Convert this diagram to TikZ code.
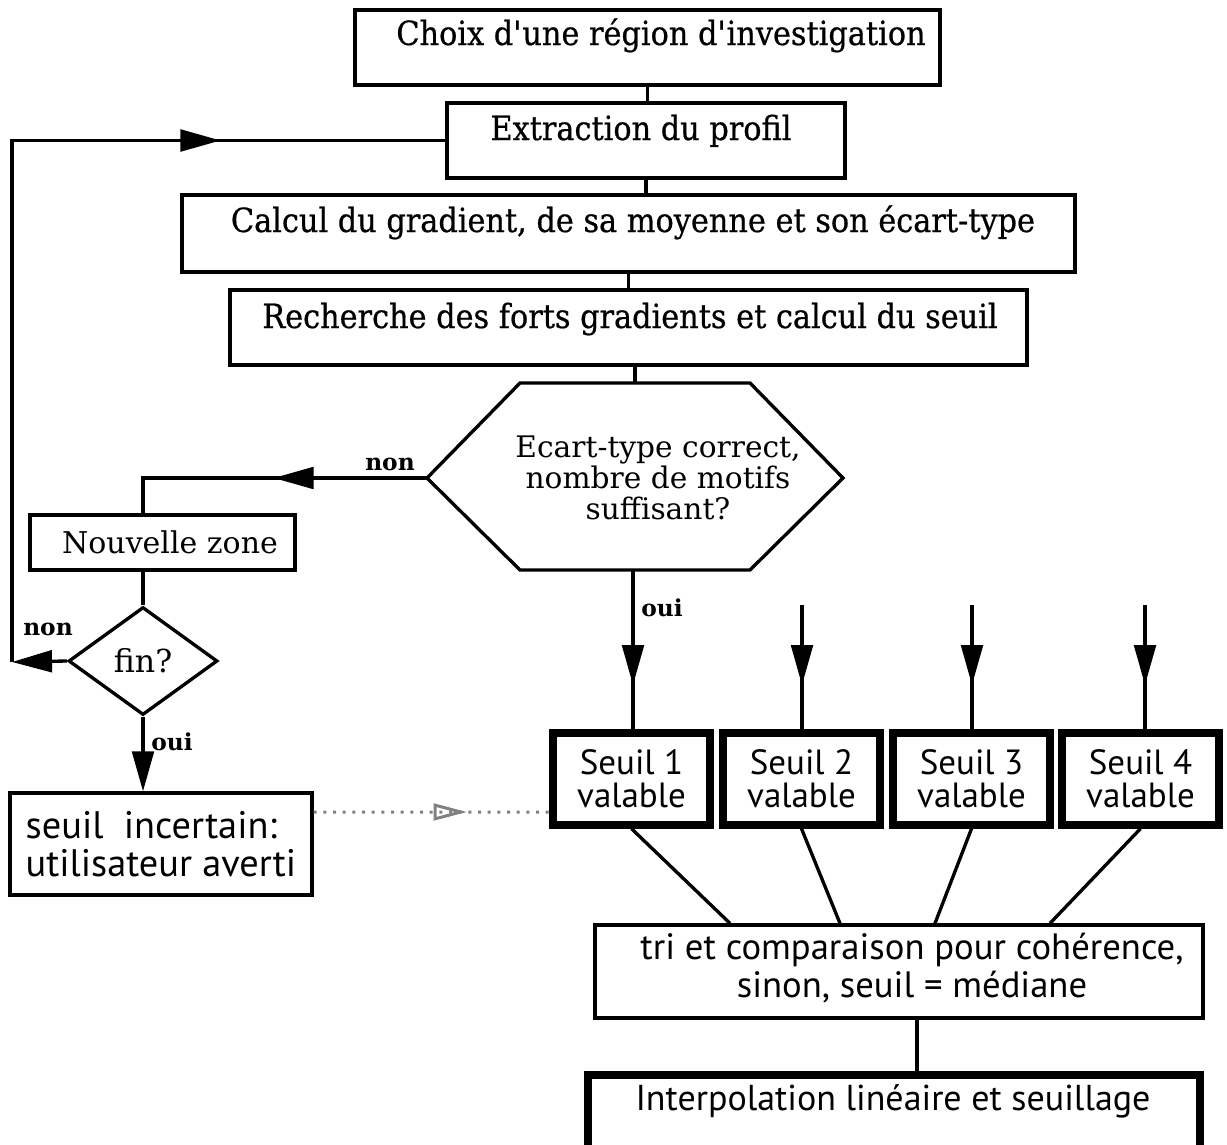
\documentclass[tikz,border=0pt]{standalone}
\usepackage{fontspec}
\setmainfont{DejaVu Serif}
\newfontfamily\condserif[FakeStretch=0.91,FakeBold=0.6]{DejaVu Serif}
\newfontfamily\sansf{PT Sans}
\usetikzlibrary{arrows.meta,shapes.geometric,decorations.markings}
\tikzset{
  box/.style={draw,line width=1pt,inner sep=0pt},
  heavybox/.style={draw,line width=2.2pt,inner sep=0pt},
  conn/.style={line width=1pt},
  midarrow/.style={postaction={decorate,decoration={markings,mark=at position #1 with {\arrow{Triangle[length=12pt,width=6.5pt]}}}}},
  openmid/.style={postaction={decorate,decoration={markings,mark=at position #1 with {\arrow[gray,solid]{Triangle[open,length=10pt,width=5pt]}}}}},
  endarrow/.style={-{Triangle[length=12pt,width=6.5pt]}},
  maintxt/.style={font=\condserif\fontsize{10}{11}\selectfont,anchor=base,inner sep=0pt},
  hextxt/.style={font=\fontsize{8.9}{9.4}\selectfont,align=center,inner sep=0pt},
  sanstxt/.style={font=\sansf\fontsize{10.5}{9.8}\selectfont,align=center},
  lbl/.style={font=\bfseries\fontsize{7}{8}\selectfont,anchor=base,inner sep=0pt},
}
\begin{document}
\begin{tikzpicture}[x=0.3pt,y=-0.3pt]
\useasboundingbox (0,0) rectangle (1227,1145);
\clip (0,0) rectangle (1227,1145);

% top boxes
\node[box,minimum width=585*0.3pt,minimum height=75*0.3pt] (b1) at (647.5,47.5) {};
\node[maintxt] (b1t) at (661,45) {Choix d\textquotesingle une région d\textquotesingle investigation};
\node[box,minimum width=398*0.3pt,minimum height=75*0.3pt] (b2) at (646,140.5) {};
\node[maintxt] (b2t) at (641,140) {Extraction du profil};
\node[box,minimum width=893*0.3pt,minimum height=77*0.3pt] (b3) at (628.5,233.5) {};
\node[maintxt] (b3t) at (633,232) {Calcul du gradient, de sa moyenne et son écart-type};
\node[box,minimum width=797*0.3pt,minimum height=75*0.3pt] (b4) at (628.5,327.5) {};
\node[maintxt] (b4t) at (630,328) {Recherche des forts gradients et calcul du seuil};

% hexagon
\coordinate (hexL) at (427,478);
\coordinate (hexT) at (635,383);
\coordinate (hexB) at (633,570);
\draw[conn] (hexL) -- (520,383) -- (750,383) -- (843,478) -- (750,570) -- (520,570) -- cycle;
\node[hextxt] (q) at (658,478) {Ecart-type correct,\\nombre de motifs\\suffisant?};

% left side
\node[box,minimum width=265*0.3pt,minimum height=55*0.3pt] (nz) at (162.5,542.5) {};
\node[font=\fontsize{9}{10}\selectfont,inner sep=0pt] (nzt) at (170,542) {Nouvelle zone};
\node[draw,diamond,line width=1pt,minimum width=149*0.3pt,minimum height=108*0.3pt,inner sep=0pt,font=\fontsize{9.5}{10}\selectfont] (fin) at (143,661) {fin?};
\node[box,minimum width=302*0.3pt,minimum height=102*0.3pt,font=\sansf\fontsize{11.5}{11.4}\selectfont,align=left] (sinc) at (161,844) {seuil\ \ incertain:\\utilisateur averti};
\coordinate (lc) at (12,662);

% seuil boxes
\node[heavybox,minimum width=157*0.3pt,minimum height=92*0.3pt,sanstxt] (s1) at (631.5,779) {Seuil 1\\valable};
\node[heavybox,minimum width=157*0.3pt,minimum height=92*0.3pt,sanstxt] (s2) at (801.5,779) {Seuil 2\\valable};
\node[heavybox,minimum width=157*0.3pt,minimum height=92*0.3pt,sanstxt] (s3) at (971.5,779) {Seuil 3\\valable};
\node[heavybox,minimum width=157*0.3pt,minimum height=92*0.3pt,sanstxt] (s4) at (1140.5,779) {Seuil 4\\valable};
\coordinate (i2) at (802,605);
\coordinate (i3) at (972,605);
\coordinate (i4) at (1145,605);

% bottom boxes
\node[box,minimum width=608*0.3pt,minimum height=93*0.3pt] (tri) at (899,971.5) {};
\node[sanstxt,font=\sansf\fontsize{11}{10}\selectfont,inner sep=0pt] (trit) at (912,968) {tri et comparaison pour cohérence,\\sinon, seuil = médiane};
\node[heavybox,minimum width=612*0.3pt,minimum height=100*0.3pt] (interp) at (894,1125) {};
\node[font=\sansf\fontsize{10.8}{10}\selectfont,anchor=base,inner sep=0pt] (interpt) at (893,1110) {Interpolation linéaire et seuillage};

% connectors
\draw[conn] (b1.south) -- (b1.south |- b2.north);
\draw[conn] (b2.south) -- (b2.south |- b3.north);
\draw[conn] (b3.south) -- (b3.south |- b4.north);
\draw[conn] (b4.south -| hexT) -- (hexT);
\draw[conn,midarrow=46pt] (hexL) -| (nz.north -| fin.north);
\draw[conn] (nz.south -| fin.north) -- (fin.north);
\draw[conn,endarrow] (fin.south) -- (fin.south |- sinc.north);
\draw[conn,endarrow] (fin.west) -- (lc);
\draw[conn,midarrow=219pt] (lc) |- (b2.west);
\draw[conn,midarrow=34.5pt] (hexB) -- (hexB |- s1.north);
\draw[conn,midarrow=24pt] (i2) -- (i2 |- s2.north);
\draw[conn,midarrow=24pt] (i3) -- (i3 |- s3.north);
\draw[conn,midarrow=24pt] (i4) -- (i4 |- s4.north);
\draw[gray,dotted,line width=0.9pt,openmid=46pt] ([yshift=9.6pt]sinc.east) -- ([yshift=-9.9pt]s1.west);
\draw[conn] (s1.south) -- ([xshift=-50.7pt]tri.north);
\draw[conn] (s2.south) -- ([xshift=-17.7pt]tri.north);
\draw[conn] (s3.south) -- ([xshift=10.8pt]tri.north);
\draw[conn] (s4.south) -- ([xshift=45.3pt]tri.north);
\draw[conn] ([xshift=5.4pt]tri.south) -- ([xshift=5.4pt]tri.south |- interp.north);

% labels
\node[lbl] (lnon1) at (390,470) {non};
\node[lbl] (lnon2) at (48,635) {non};
\node[lbl] (loui1) at (662,616) {oui};
\node[lbl] (loui2) at (172,750) {oui};
\end{tikzpicture}
\end{document}
